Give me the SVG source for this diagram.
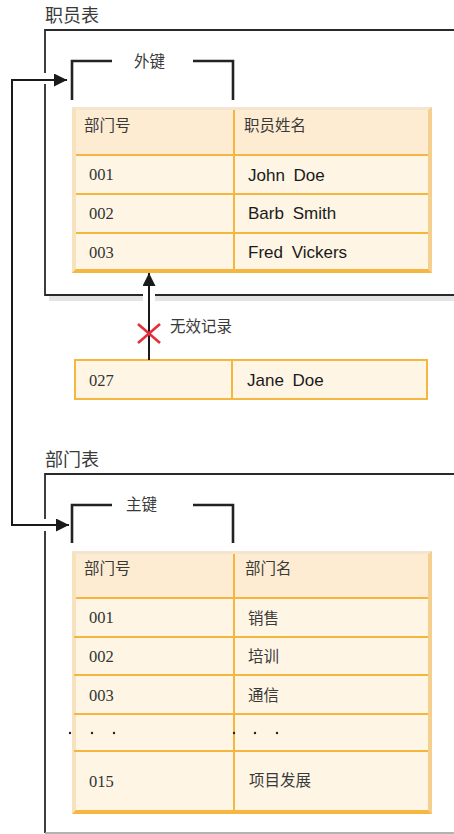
<svg xmlns="http://www.w3.org/2000/svg" width="454" height="834" viewBox="0 0 454 834">
<style>
.cjk{font-family:"Noto Sans CJK SC","Noto Sans",sans-serif;fill:#3a3a3a}
.num{font-family:"Liberation Serif",serif;font-size:16.5px;fill:#333}
.name{font-family:"Liberation Sans",Arial,sans-serif;font-size:17px;fill:#1a1a1a;word-spacing:4px}
.box{fill:none;stroke:#2a2a2a;stroke-width:1.8}
.br{fill:none;stroke:#222;stroke-width:2.6}
.ln{stroke:#f4b63f;stroke-width:2}
.conn{fill:none;stroke:#1a1a1a;stroke-width:2}
</style>
<defs>
<marker id="ah" markerUnits="userSpaceOnUse" viewBox="0 0 13 13" refX="13" refY="6.5" markerWidth="13" markerHeight="13" orient="auto-start-reverse">
<path d="M0,0 L13,6.5 L0,13 z" fill="#1a1a1a"/>
</marker>
</defs>
<rect width="454" height="834" fill="#fff"/>

<g id="empTable">
<text class="cjk" x="45" y="22" font-size="18">职员表</text>
<rect x="49" y="296" width="94" height="5" fill="#e3e4e6"/>
<rect x="155" y="296" width="299" height="5" fill="#e3e4e6"/>
<path class="box" d="M454 30 H45 V73 M45 84 V295 H143 M155 295 H454"/>
<path class="br" d="M72 100 V61 H112 M193 61 H233 V100"/>
<text class="cjk" x="134" y="67" font-size="15.5">外键</text>
<g id="empGrid">
<rect x="72" y="107" width="360" height="166" fill="#f3e5d0"/>
<polygon points="72,107 76,110 76,269 72,273" fill="#f8e2bd"/>
<polygon points="432,107 428,110 428,269 432,273" fill="#f5cf8e"/>
<polygon points="72,273 76,269 428,269 432,273" fill="#f5b73f"/>
<rect x="76" y="110" width="352" height="45" fill="#feecd2"/>
<rect x="76" y="155" width="352" height="114" fill="#fef5e4"/>
<line class="ln" x1="76" y1="155" x2="428" y2="155"/>
<line class="ln" x1="76" y1="194" x2="428" y2="194"/>
<line class="ln" x1="76" y1="233" x2="428" y2="233"/>
<line class="ln" x1="234" y1="110" x2="234" y2="269"/>
<text class="cjk" x="84" y="131" font-size="15.5">部门号</text>
<text class="cjk" x="244" y="131" font-size="15.5">职员姓名</text>
<text class="num" x="89" y="180">001</text>
<text class="name" x="248" y="181">John Doe</text>
<text class="num" x="89" y="219">002</text>
<text class="name" x="248" y="219">Barb Smith</text>
<text class="num" x="89" y="258">003</text>
<text class="name" x="248" y="258">Fred Vickers</text>
</g>
</g>

<g id="invalidRow">
<rect x="75" y="360" width="352" height="39" fill="#fef5e4" stroke="#f5b73f" stroke-width="2"/>
<line class="ln" x1="232" y1="360" x2="232" y2="399"/>
<text class="num" x="89" y="386">027</text>
<text class="name" x="247" y="386">Jane Doe</text>
</g>

<g id="deptTable">
<text class="cjk" x="45" y="466" font-size="18">部门表</text>
<path class="box" d="M454 474 H45 V519 M45 531 V833"/>
<line x1="45" y1="833" x2="454" y2="833" stroke="#999" stroke-width="1.5"/>
<path class="br" d="M72 543 V505 H112 M193 505 H233 V543"/>
<text class="cjk" x="126" y="510" font-size="15.5">主键</text>
<g id="deptGrid">
<rect x="72" y="551" width="360" height="263" fill="#f3e5d0"/>
<polygon points="72,551 76,554 76,810 72,814" fill="#f8e2bd"/>
<polygon points="432,551 428,554 428,810 432,814" fill="#f5cf8e"/>
<polygon points="72,814 76,810 428,810 432,814" fill="#f5b73f"/>
<rect x="76" y="554" width="352" height="44" fill="#feecd2"/>
<rect x="76" y="598" width="352" height="212" fill="#fef5e4"/>
<line class="ln" x1="76" y1="598" x2="428" y2="598"/>
<line class="ln" x1="74" y1="637" x2="428" y2="637"/>
<line class="ln" x1="74" y1="675" x2="428" y2="675"/>
<line class="ln" x1="74" y1="714" x2="428" y2="714"/>
<line class="ln" x1="74" y1="751" x2="428" y2="751"/>
<line class="ln" x1="234" y1="554" x2="234" y2="810"/>
<text class="cjk" x="84" y="574" font-size="15.5">部门号</text>
<text class="cjk" x="245" y="574" font-size="15.5">部门名</text>
<text class="num" x="89" y="623">001</text>
<text class="cjk" x="248" y="624" font-size="15.5">销售</text>
<text class="num" x="89" y="662">002</text>
<text class="cjk" x="248" y="662" font-size="15.5">培训</text>
<text class="num" x="89" y="701">003</text>
<text class="cjk" x="248" y="701" font-size="15.5">通信</text>
<g fill="#222">
<circle cx="70" cy="733" r="1.2"/><circle cx="92" cy="733" r="1.2"/><circle cx="114" cy="733" r="1.2"/>
<circle cx="234" cy="733" r="1.2"/><circle cx="255" cy="733" r="1.2"/><circle cx="277" cy="733" r="1.2"/>
</g>
<text class="num" x="89" y="787">015</text>
<text class="cjk" x="249" y="786" font-size="15.5">项目发展</text>
</g>
</g>

<g id="connectors">
<path class="conn" d="M67 80 H12 V525 H69" marker-start="url(#ah)" marker-end="url(#ah)"/>
<path class="conn" d="M149 360 V273" marker-end="url(#ah)"/>
<g stroke="#e62e3a" stroke-width="2.6">
<line x1="138" y1="324" x2="160" y2="343"/>
<line x1="160" y1="324" x2="138" y2="343"/>
</g>
<text class="cjk" x="170" y="332" font-size="15.5">无效记录</text>
</g>
</svg>
